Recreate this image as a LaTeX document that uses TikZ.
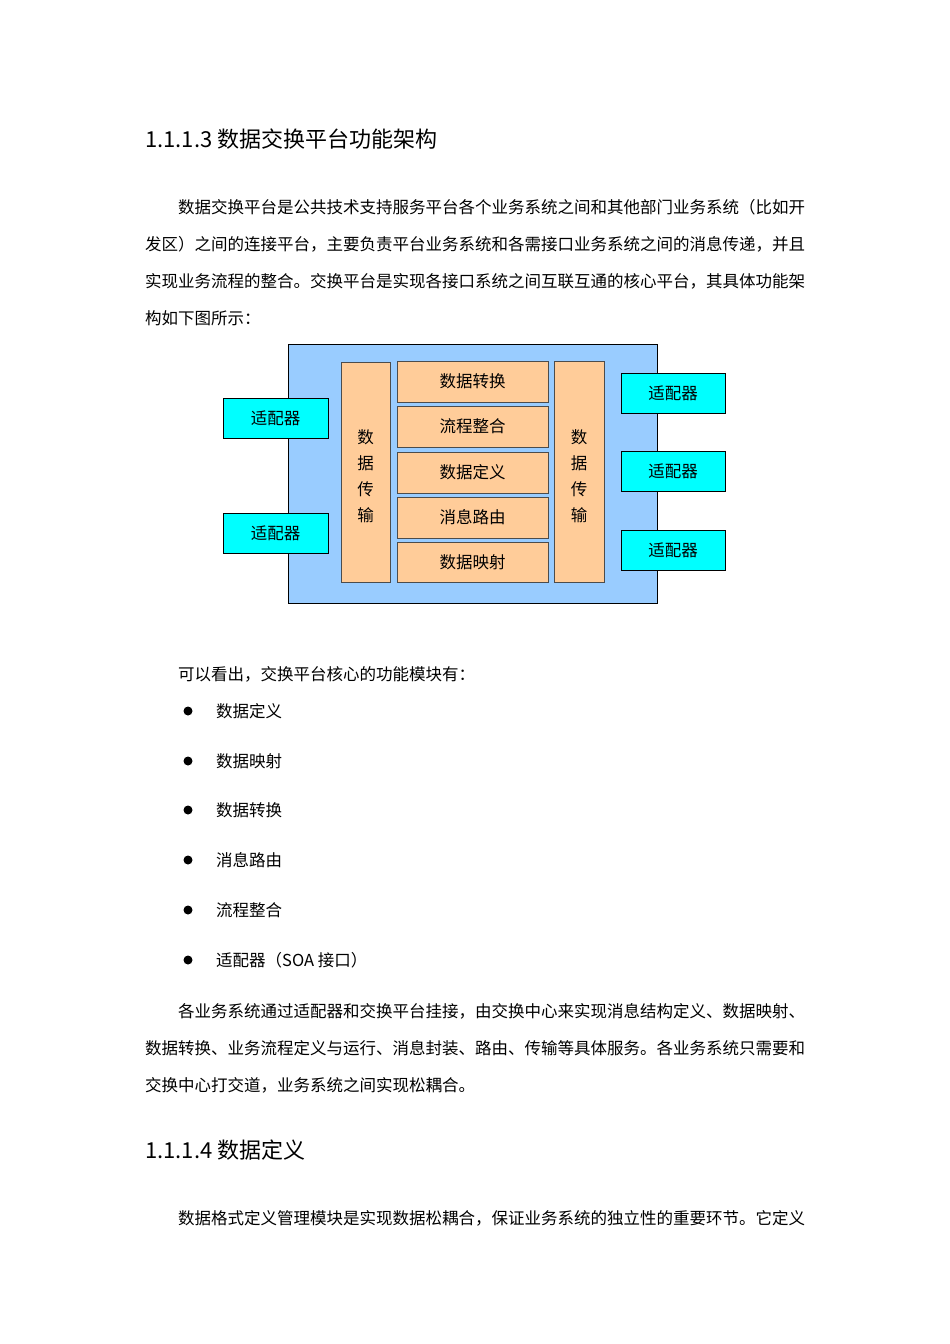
\documentclass[tikz,border=0pt]{standalone}
\usepackage{fontspec}
\setmainfont{Noto Sans CJK SC}
\begin{document}
\begin{tikzpicture}[x=1pt,y=-1pt,
  txt/.style={anchor=west,inner sep=0pt,font=\fontsize{16.5}{17}\selectfont},
  head/.style={anchor=west,inner sep=0pt,font=\fontsize{22}{23}\selectfont},
  adapt/.style={draw=black,line width=0.8pt,fill={rgb,255:red,0;green,255;blue,255},font=\fontsize{16.5}{17}\selectfont},
  peach/.style={draw=black!70,line width=0.8pt,fill={rgb,255:red,255;green,204;blue,153},font=\fontsize{16.5}{17}\selectfont},
  vtxt/.style={align=center,inner sep=0pt,font=\fontsize{16.5}{17}\selectfont}]
\useasboundingbox (0,0) rectangle (950,1344);
\fill[white] (0,0) rectangle (950,1344);
\node[head] (h1) at (145,139) {1.1.1.3 数据交换平台功能架构};
\node[txt] (p1) at (178,207) {数据交换平台是公共技术支持服务平台各个业务系统之间和其他部门业务系统（比如开};
\node[txt] (p2) at (145,244) {发区）之间的连接平台，主要负责平台业务系统和各需接口业务系统之间的消息传递，并且};
\node[txt] (p3) at (145,281) {实现业务流程的整合。交换平台是实现各接口系统之间互联互通的核心平台，其具体功能架};
\node[txt] (p4) at (145,318) {构如下图所示：};
% diagram
\draw[line width=1pt,fill={rgb,255:red,153;green,204;blue,255}] (288,344) rectangle (657,603);
\node[adapt,minimum width=105pt,minimum height=40pt] (a1) at (275.5,418) {适配器};
\node[adapt,minimum width=105pt,minimum height=40pt] (a2) at (275.5,533) {适配器};
\node[adapt,minimum width=104pt,minimum height=40pt] (a3) at (673,393) {适配器};
\node[adapt,minimum width=104pt,minimum height=40pt] (a4) at (673,471.5) {适配器};
\node[adapt,minimum width=104pt,minimum height=40pt] (a5) at (673,550) {适配器};
\node[peach,minimum width=49pt,minimum height=220pt] (t1) at (365.5,472) {};
\node[peach,minimum width=50pt,minimum height=221pt] (t2) at (579,471.5) {};
\node[vtxt] (t1l) at (365.5,476.5) {数\\[9pt]据\\[9pt]传\\[9pt]输};
\node[vtxt] (t2l) at (579,476.5) {数\\[9pt]据\\[9pt]传\\[9pt]输};
\node[peach,minimum width=151pt,minimum height=41pt] (c1) at (472.5,381.5) {数据转换};
\node[peach,minimum width=151pt,minimum height=41pt] (c2) at (472.5,426.5) {流程整合};
\node[peach,minimum width=151pt,minimum height=41pt] (c3) at (472.5,472.5) {数据定义};
\node[peach,minimum width=151pt,minimum height=41pt] (c4) at (472.5,517.5) {消息路由};
\node[peach,minimum width=151pt,minimum height=40pt] (c5) at (472.5,562) {数据映射};
% after
\node[txt] (q1) at (178,674) {可以看出，交换平台核心的功能模块有：};
\foreach \y/\t [count=\i] in {711/数据定义,761/数据映射,810/数据转换,860/消息路由,910/流程整合,960/适配器（SOA 接口）}{
  \fill (188,\y) circle (4.5pt);
  \node[txt] (b\i) at (216,\y) {\t};
}
\node[txt] (r1) at (178,1011) {各业务系统通过适配器和交换平台挂接，由交换中心来实现消息结构定义、数据映射、};
\node[txt] (r2) at (145,1048) {数据转换、业务流程定义与运行、消息封装、路由、传输等具体服务。各业务系统只需要和};
\node[txt] (r3) at (145,1085) {交换中心打交道，业务系统之间实现松耦合。};
\node[head] (h2) at (145,1150) {1.1.1.4 数据定义};
\node[txt] (s1) at (178,1218) {数据格式定义管理模块是实现数据松耦合，保证业务系统的独立性的重要环节。它定义};
\end{tikzpicture}
\end{document}
